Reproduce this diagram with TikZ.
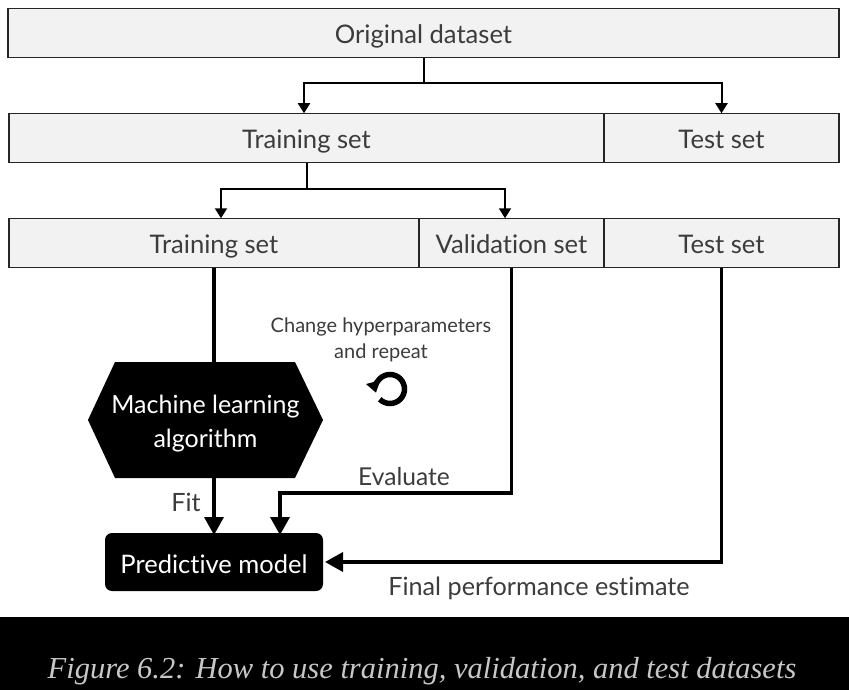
\documentclass[tikz,border=0pt]{standalone}
\usepackage{fontspec}
\setmainfont{Lato}[RawFeature=-liga]
\newfontfamily\capfont{Liberation Serif}
\usetikzlibrary{positioning, arrows.meta}
\definecolor{boxfill}{HTML}{F2F2F2}
\definecolor{inktext}{HTML}{3C3C3C}
\tikzset{
    setbox/.style={draw=black!85, line width=1.4pt, fill=boxfill, text=inktext, inner sep=0pt, outer sep=0pt, minimum height=49.5pt, text height=26pt, text depth=5pt, font=\fontsize{25.6}{30}\selectfont},
    lab/.style={text=inktext, inner sep=0pt, align=center, font=\fontsize{25.2}{30}\selectfont},
    thinline/.style={draw=black, line width=2pt, -{Triangle[length=10pt, width=12pt]}},
    fatline/.style={draw=black, line width=3.6pt, -{Triangle[length=18pt, width=19pt]}},
    blackbox/.style={fill=black, text=white, inner sep=0pt, outer sep=0pt, align=center}
}
\begin{document}
\begin{tikzpicture}[x=1pt, y=-1pt]
    \useasboundingbox (0,0) rectangle (849,690);
    % Caption band
    \fill[black] (0,617) rectangle (849,690);
    \node[text=black!22, inner sep=0pt] (caption) at (422,671) {\capfont\itshape\fontsize{30.5}{34}\selectfont Figure 6.2: How to use training, validation, and test datasets};

    % First row
    \node[setbox, minimum width=831pt] (orig) at (423.5,33) {Original dataset};

    % Second row
    \node[setbox, minimum width=595pt] (train) at (306.5,138) {Training set};
    \node[setbox, minimum width=235pt, right=0pt of train] (test) {Test set};

    % Third row
    \node[setbox, minimum width=410pt] (fit) at (214,243) {Training set};
    \node[setbox, minimum width=185pt, right=0pt of fit] (valid) {Validation set};
    \node[setbox, minimum width=235pt, right=0pt of valid] (final) {Test set};

    % Black shapes
    \fill[black] (88,420) -- (115,362) -- (295,362) -- (323,420) -- (295,478) -- (115,478) -- cycle;
    \node[blackbox, fill=none, minimum width=235pt, minimum height=116pt, font=\fontsize{25}{34}\selectfont] (algo) at (205.5,420) {\rule{0pt}{25pt}Machine learning\\algorithm};
    \node[blackbox, rounded corners=7pt, minimum width=218pt, minimum height=58pt, text height=27pt, text depth=5pt, font=\fontsize{25.5}{30}\selectfont] (model) at (214,562) {Predictive model};

    % Split arrows
    \draw[thinline] (orig.south) -- ++(0,25) -| ([xshift=-2.5pt]train.north);
    \draw[thinline] (orig.south) -- ++(0,25) -| (test.north);
    \draw[thinline] (train.south) -- ++(0,26) -| ([xshift=7pt]fit.north);
    \draw[thinline] (train.south) -- ++(0,26) -| ([xshift=-6.5pt]valid.north);

    % Flow to the model
    \draw[line width=3.6pt] (fit.south) -- (fit.south |- algo.north);
    \draw[fatline] (fit.south |- algo.south) -- ([yshift=-2pt]model.north);
    \draw[fatline] (valid.south) |- (280,493) -- ([xshift=66pt, yshift=-2pt]model.north);
    \draw[fatline] (final.south) |- ([xshift=2pt]model.east);

    % Labels
    \node[lab] (fitlab) at (186,502) {Fit};
    \node[lab, font=\fontsize{24.6}{30}\selectfont] (evallab) at (404,477) {Evaluate};
    \node[lab] (perflab) at (539,588) {Final performance estimate};
    \node[lab, font=\fontsize{20}{26}\selectfont] (repeatlab) at (381,340) {Change hyperparameters\\and repeat};

    % Repeat icon
    \coordinate (loop) at (390,389);
    \draw[line width=5.5pt, -{Triangle[length=11pt, width=14pt]}] ([shift={(225:14.5pt)}]loop) arc[start angle=225, end angle=555, radius=14.5pt];
\end{tikzpicture}
\end{document}
